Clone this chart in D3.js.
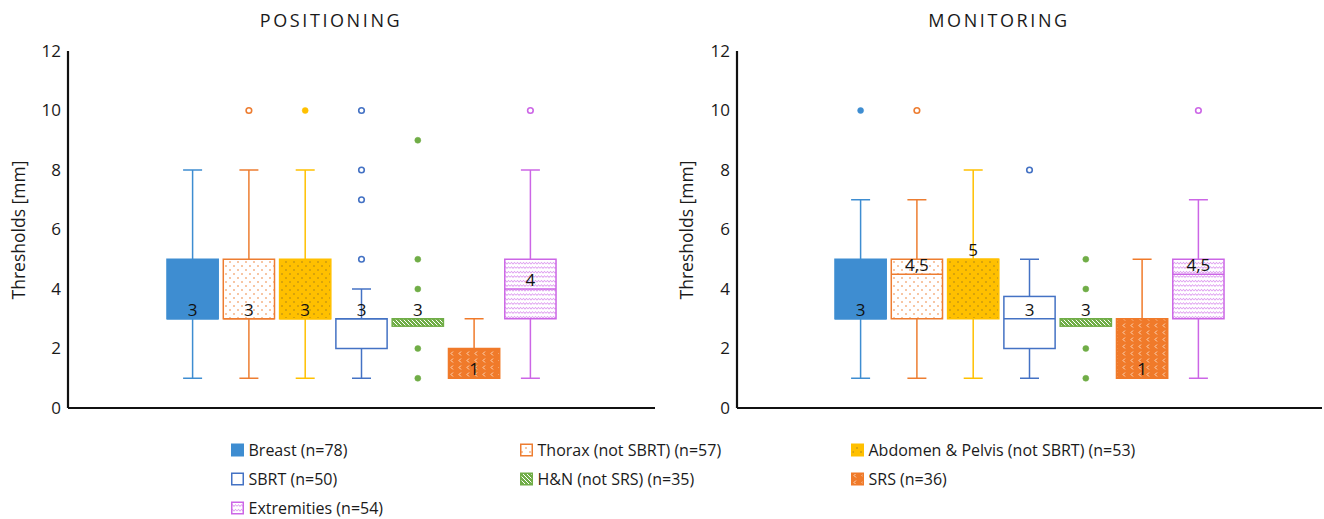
<!DOCTYPE html>
<meta charset="utf-8">
<style>
  body { margin: 0; background: #fff; }
  text { font-family: "Open Sans", "DejaVu Sans", sans-serif; }
  .axisline { stroke: #111; stroke-width: 2.2px; }
</style>
<body>
<script src="https://cdn.jsdelivr.net/npm/d3@7"></script>
<script>

// series (categories) and their counts
var series = ["Breast", "Thorax (not SBRT)", "Abdomen & Pelvis (not SBRT)", "SBRT", "H&N (not SRS)", "SRS", "Extremities"];
var counts = [78, 57, 53, 50, 35, 36, 54];
var yTicks = [0, 2, 4, 6, 8, 10, 12];

// positioning panel
var posMin = [1, 1, 1, 1, 2.75, 1, 1];
var posQ1 = [3, 3, 3, 2, 2.75, 1, 3];
var posMedian = [3, 3, 3, 3, 3, 1, 4];
var posQ3 = [5, 5, 5, 3, 3, 2, 5];
var posMax = [8, 8, 8, 4, 3, 3, 8];
var posOutliers = [[], [10], [10], [5, 7, 8, 10], [1, 2, 4, 5, 9], [], [10]];
var posLabels = ["3", "3", "3", "3", "3", "1", "4"];

// monitoring panel
var monMin = [1, 1, 1, 1, 2.75, 1, 1];
var monQ1 = [3, 3, 3, 2, 2.75, 1, 3];
var monMedian = [3, 4.5, 5, 3, 3, 1, 4.5];
var monQ3 = [5, 5, 5, 3.75, 3, 3, 5];
var monMax = [7, 7, 8, 5, 3, 5, 7];
var monOutliers = [[10], [10], [], [8], [1, 2, 4, 5], [], [10]];
var monLabels = ["3", "4,5", "5", "3", "3", "1", "4,5"];

// styling per series
var strokeCol = ["#3E8DD1", "#ED7D31", "#FFC000", "#4472C4", "#70AD47", "#F07A2A", "#CC66E6"];
var fillRef = ["#3E8DD1", "url(#dotsOrange)", "url(#dotsGold)", "#fff", "url(#hatchGreen)", "url(#chevOrange)", "url(#waveViolet)"];
var outlierFilled = [true, false, true, false, true, true, false];

var W = 1324, H = 519;
var svg = d3.select("body").append("svg")
    .attr("width", W)
    .attr("height", H);

// patterns
var defs = svg.append("defs");

function dots(id, bg, col) {
  var p = defs.append("pattern").attr("id", id).attr("patternUnits", "userSpaceOnUse")
      .attr("width", 8).attr("height", 8);
  p.append("rect").attr("width", 8).attr("height", 8).attr("fill", bg);
  p.append("circle").attr("cx", 2).attr("cy", 2).attr("r", 0.8).attr("fill", col);
  p.append("circle").attr("cx", 6).attr("cy", 6).attr("r", 0.8).attr("fill", col);
}
dots("dotsOrange", "#fff", "#ED7D31");
dots("dotsGold", "#FFC000", "#A8801a");

var hg = defs.append("pattern").attr("id", "hatchGreen").attr("patternUnits", "userSpaceOnUse")
    .attr("width", 4).attr("height", 4);
hg.append("rect").attr("width", 4).attr("height", 4).attr("fill", "#70AD47");
hg.append("path").attr("d", "M-1,-1 L5,5 M-1,3 L1,5 M3,-1 L5,1").attr("stroke", "#fff").attr("stroke-width", 1);

var ch = defs.append("pattern").attr("id", "chevOrange").attr("patternUnits", "userSpaceOnUse")
    .attr("width", 8).attr("height", 7);
ch.append("rect").attr("width", 8).attr("height", 7).attr("fill", "#F07A2A");
ch.append("path").attr("d", "M5,1.5 L3,3.5 L5,5.5").attr("fill", "none").attr("stroke", "#fde3cf").attr("stroke-width", 0.9);

var wv = defs.append("pattern").attr("id", "waveViolet").attr("patternUnits", "userSpaceOnUse")
    .attr("width", 6).attr("height", 4.5);
wv.append("rect").attr("width", 6).attr("height", 4.5).attr("fill", "#fff");
wv.append("path").attr("d", "M0,3 L1.5,1.3 L3,3 L4.5,1.3 L6,3").attr("fill", "none").attr("stroke", "#D27BEA").attr("stroke-width", 0.9);

function drawPanel(opt) {
  var g = svg.append("g");
  var y = d3.scaleLinear().domain([0, 12]).range([408, 51]);
  var step = 56.3;
  var inner = 0.09;
  var outer = ((opt.x1 - opt.x0) / step - (series.length - inner)) / 2;
  var x = d3.scaleBand().domain(series).range([opt.x0, opt.x1]).paddingInner(inner).paddingOuter(outer);
  var bw = x.bandwidth();
  var cap = 19;

  // title
  g.append("text")
      .attr("x", opt.titleX).attr("y", 26.5)
      .attr("text-anchor", "middle")
      .attr("font-size", 18)
      .attr("letter-spacing", "2.6px")
      .attr("fill", "#1a1a1a")
      .text(opt.title);

  // y tick labels (no tick marks)
  var ax = g.append("g")
      .attr("transform", "translate(" + opt.x0 + ",0)")
      .call(d3.axisLeft(y).tickValues(yTicks).tickSize(0).tickPadding(7));
  ax.select(".domain").remove();
  ax.selectAll("text").attr("font-size", 17).attr("fill", "#1a1a1a")
      .style("font-family", "'Open Sans', sans-serif");

  // y axis title
  g.append("text")
      .attr("transform", "translate(" + opt.titleYx + ",230) rotate(-90)")
      .attr("text-anchor", "middle")
      .attr("dy", "0.35em")
      .attr("font-size", 17.5)
      .attr("fill", "#1a1a1a")
      .text("Thresholds [mm]");

  var boxes = g.selectAll(".box").data(series).enter().append("g").attr("class", "box");

  boxes.each(function(s, i) {
    var b = d3.select(this);
    var cx = x(s) + bw / 2;
    var col = strokeCol[i];
    // whiskers
    if (opt.max[i] > opt.q3[i]) {
      b.append("line").attr("x1", cx).attr("x2", cx).attr("y1", y(opt.max[i])).attr("y2", y(opt.q3[i]))
          .attr("stroke", col).attr("stroke-width", 1.5);
      b.append("line").attr("x1", cx - cap / 2).attr("x2", cx + cap / 2).attr("y1", y(opt.max[i])).attr("y2", y(opt.max[i]))
          .attr("stroke", col).attr("stroke-width", 1.5);
    }
    if (opt.min[i] < opt.q1[i]) {
      b.append("line").attr("x1", cx).attr("x2", cx).attr("y1", y(opt.q1[i])).attr("y2", y(opt.min[i]))
          .attr("stroke", col).attr("stroke-width", 1.5);
      b.append("line").attr("x1", cx - cap / 2).attr("x2", cx + cap / 2).attr("y1", y(opt.min[i])).attr("y2", y(opt.min[i]))
          .attr("stroke", col).attr("stroke-width", 1.5);
    }
    // box
    b.append("rect")
        .attr("x", x(s)).attr("width", bw)
        .attr("y", y(opt.q3[i])).attr("height", y(opt.q1[i]) - y(opt.q3[i]))
        .attr("fill", fillRef[i])
        .attr("stroke", col).attr("stroke-width", 1.5);
    // median
    b.append("line").attr("x1", x(s)).attr("x2", x(s) + bw).attr("y1", y(opt.median[i])).attr("y2", y(opt.median[i]))
        .attr("stroke", col).attr("stroke-width", 1.5);
    // outliers
    b.selectAll("circle").data(opt.outliers[i]).enter().append("circle")
        .attr("cx", cx).attr("cy", function(d) { return y(d); })
        .attr("r", outlierFilled[i] ? 3 : 2.8)
        .attr("fill", outlierFilled[i] ? col : "#fff")
        .attr("stroke", col).attr("stroke-width", outlierFilled[i] ? 0.5 : 1.6);
    // median label
    b.append("text")
        .attr("x", cx).attr("y", y(opt.median[i]) - 3)
        .attr("text-anchor", "middle")
        .attr("font-size", 17)
        .attr("fill", "#111")
        .text(opt.labels[i]);
  });

  // axis lines
  g.append("line").attr("class", "axisline")
      .attr("x1", opt.x0).attr("x2", opt.x0).attr("y1", y(12)).attr("y2", y(0));
  g.append("line").attr("class", "axisline")
      .attr("x1", opt.x0).attr("x2", opt.x1).attr("y1", y(0)).attr("y2", y(0));
}

drawPanel({
  title: "POSITIONING", titleX: 331, titleYx: 18.5,
  x0: 68, x1: 655,
  min: posMin, q1: posQ1, median: posMedian, q3: posQ3, max: posMax,
  outliers: posOutliers, labels: posLabels
});

drawPanel({
  title: "MONITORING", titleX: 999, titleYx: 687,
  x0: 737, x1: 1322,
  min: monMin, q1: monQ1, median: monMedian, q3: monQ3, max: monMax,
  outliers: monOutliers, labels: monLabels
});

// legend, three columns
var legX = [231, 520, 851];
var legY = [450, 479, 508];
var legend = svg.append("g").selectAll("g").data(series).enter().append("g")
    .attr("transform", function(d, i) {
      return "translate(" + legX[i % 3] + "," + legY[Math.floor(i / 3)] + ")";
    });
legend.append("rect")
    .attr("x", 0.75).attr("y", -5.75).attr("width", 11.5).attr("height", 11.5)
    .attr("fill", function(d, i) { return fillRef[i]; })
    .attr("stroke", function(d, i) { return strokeCol[i]; })
    .attr("stroke-width", 1.5);
legend.append("text")
    .attr("x", 17.5).attr("y", 0).attr("dy", "0.35em")
    .attr("font-size", 16)
    .attr("fill", "#1a1a1a")
    .text(function(d, i) { return d + " (n=" + counts[i] + ")"; });

</script>
</body>
